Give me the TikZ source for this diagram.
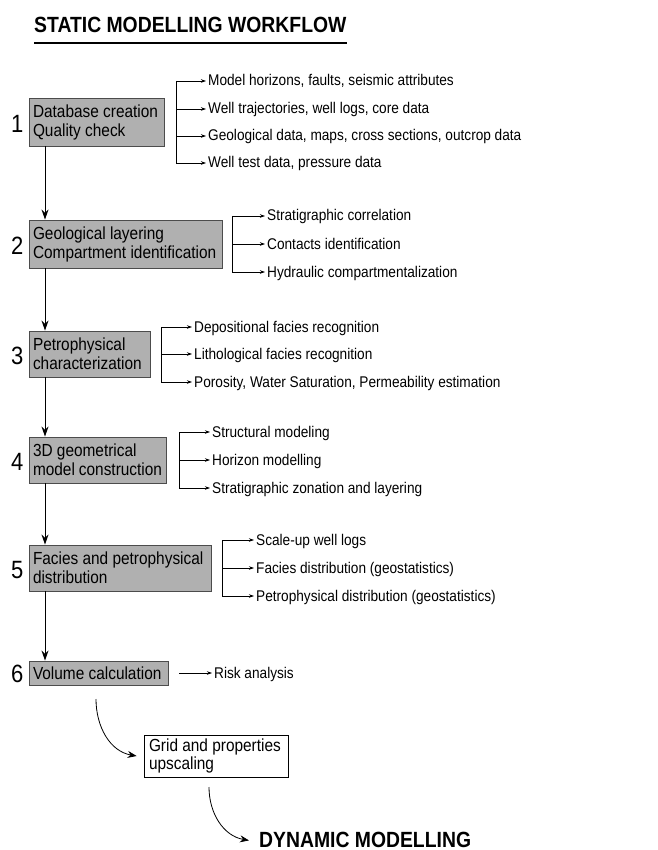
\documentclass[tikz,border=0pt]{standalone}
\usepackage{fontspec}
\setmainfont{Liberation Sans}[FakeStretch=0.88]
\usetikzlibrary{arrows.meta, positioning}

\begin{document}
\begin{tikzpicture}[x=1pt, y=-1pt]
\tikzstyle{stepbox} = [rectangle, draw=black!70, fill=black!31, line width=0.9pt, inner xsep=4pt, inner ysep=0pt, align=flush left, font=\fontsize{17.5}{19}\selectfont]
\tikzstyle{num} = [inner sep=1pt, font=\fontsize{25}{27}\selectfont]
\tikzstyle{item} = [anchor=west, inner xsep=2pt, inner ysep=0pt, text height=11pt, text depth=1pt, font=\fontsize{15.5}{17}\selectfont]
\tikzstyle{arrow} = [line width=1pt, -{Stealth[length=10pt, width=7pt]}]
\tikzstyle{tip} = [line width=0.7pt, -{Stealth[length=5pt, width=3.5pt]}]
\tikzstyle{curvearrow} = [line width=0.8pt, -{Stealth[length=9pt, width=7pt]}]
\tikzstyle{heading} = [inner sep=0pt, font=\fontsize{22}{24}\bfseries\selectfont]

\useasboundingbox (0,0) rectangle (657,850);

% title
\node (title) [heading, anchor=base west] at (34,33) {STATIC MODELLING WORKFLOW};
\draw [line width=1.5pt] ([yshift=-10pt]title.base west) -- ([yshift=-10pt]title.base east);

% workflow steps
\node (db) [stepbox, text width=127pt, minimum height=48pt] at (96.5,122) {Database creation\\Quality check};
\node (geo) [stepbox, text width=185pt, minimum height=48pt] at (125.5,244) {Geological layering\\Compartment identification};
\node (petro) [stepbox, text width=113pt, minimum height=46pt] at (89.5,354) {Petrophysical\\characterization};
\node (geom) [stepbox, text width=129pt, minimum height=46pt] at (97.5,460) {3D geometrical\\model construction};
\node (facies) [stepbox, text width=174pt, minimum height=46pt] at (120,568) {Facies and petrophysical\\distribution};
\node (vol) [stepbox, text width=131pt, minimum height=24pt] at (98.5,673) {Volume calculation};

\node (n1) [num, left=4pt of db, yshift=-2pt] {1};
\node (n2) [num, left=4pt of geo, yshift=-2pt] {2};
\node (n3) [num, left=4pt of petro, yshift=-2pt] {3};
\node (n4) [num, left=4pt of geom, yshift=-2pt] {4};
\node (n5) [num, left=4pt of facies, yshift=-2pt] {5};
\node (n6) [num, left=4pt of vol, yshift=-1pt] {6};

\coordinate (spine) at (45,0);
\draw [arrow] (db.south -| spine) -- (geo.north -| spine);
\draw [arrow] (geo.south -| spine) -- (petro.north -| spine);
\draw [arrow] (petro.south -| spine) -- (geom.north -| spine);
\draw [arrow] (geom.south -| spine) -- (facies.north -| spine);
\draw [arrow] (facies.south -| spine) -- (vol.north -| spine);

% step 1 inputs
\node (in1a) [item] at (206,81) {Model horizons, faults, seismic attributes};
\node (in1b) [item] at (206,109) {Well trajectories, well logs, core data};
\node (in1c) [item] at (206,136) {Geological data, maps, cross sections, outcrop data};
\node (in1d) [item] at (206,163) {Well test data, pressure data};
\coordinate (br1) at (176,0);
\draw [line width=0.7pt] (br1 |- in1a.west) -- (br1 |- in1d.west);
\draw [tip] (br1 |- in1a.west) -- (in1a.west);
\draw [tip] (br1 |- in1b.west) -- (in1b.west);
\draw [tip] (br1 |- in1c.west) -- (in1c.west);
\draw [tip] (br1 |- in1d.west) -- (in1d.west);

% step 2
\node (in2a) [item] at (265,216) {Stratigraphic correlation};
\node (in2b) [item] at (265,244) {Contacts identification};
\node (in2c) [item] at (265,272) {Hydraulic compartmentalization};
\coordinate (br2) at (232,0);
\draw [line width=0.7pt] (br2 |- in2a.west) -- (br2 |- in2c.west);
\draw [tip] (br2 |- in2a.west) -- (in2a.west);
\draw [tip] (br2 |- in2b.west) -- (in2b.west);
\draw [tip] (br2 |- in2c.west) -- (in2c.west);

% step 3
\node (in3a) [item] at (192,327) {Depositional facies recognition};
\node (in3b) [item] at (192,354) {Lithological facies recognition};
\node (in3c) [item] at (192,382) {Porosity, Water Saturation, Permeability estimation};
\coordinate (br3) at (161,0);
\draw [line width=0.7pt] (br3 |- in3a.west) -- (br3 |- in3c.west);
\draw [tip] (br3 |- in3a.west) -- (in3a.west);
\draw [tip] (br3 |- in3b.west) -- (in3b.west);
\draw [tip] (br3 |- in3c.west) -- (in3c.west);

% step 4
\node (in4a) [item] at (210,432) {Structural modeling};
\node (in4b) [item] at (210,460) {Horizon modelling};
\node (in4c) [item] at (210,488) {Stratigraphic zonation and layering};
\coordinate (br4) at (179,0);
\draw [line width=0.7pt] (br4 |- in4a.west) -- (br4 |- in4c.west);
\draw [tip] (br4 |- in4a.west) -- (in4a.west);
\draw [tip] (br4 |- in4b.west) -- (in4b.west);
\draw [tip] (br4 |- in4c.west) -- (in4c.west);

% step 5
\node (in5a) [item] at (254,540) {Scale-up well logs};
\node (in5b) [item] at (254,568) {Facies distribution (geostatistics)};
\node (in5c) [item] at (254,596) {Petrophysical distribution (geostatistics)};
\coordinate (br5) at (222,0);
\draw [line width=0.7pt] (br5 |- in5a.west) -- (br5 |- in5c.west);
\draw [tip] (br5 |- in5a.west) -- (in5a.west);
\draw [tip] (br5 |- in5b.west) -- (in5b.west);
\draw [tip] (br5 |- in5c.west) -- (in5c.west);

% step 6
\node (risk) [item] at (212,673) {Risk analysis};
\coordinate (br6) at (179,0);
\draw [tip] (br6 |- risk.west) -- (risk.west);

% towards dynamic modelling
\node (grid) [rectangle, draw=black, fill=white, line width=0.8pt, inner xsep=5pt, inner ysep=0pt, text width=134pt, minimum height=42pt, align=flush left, font=\fontsize{17.5}{16}\selectfont] at (216,756) {Grid and properties\\upscaling};
\node (dyn) [heading, anchor=base west] at (259,847) {DYNAMIC MODELLING};
\coordinate (c1) at (96,699);
\coordinate (c2) at (209,787);
\draw [curvearrow] (c1) to[out=-90, in=170] ([xshift=-7pt]grid.west);
\draw [curvearrow] (c2) to[out=-90, in=170] ([xshift=-10pt, yshift=-1pt]dyn.west);
\end{tikzpicture}
\end{document}
